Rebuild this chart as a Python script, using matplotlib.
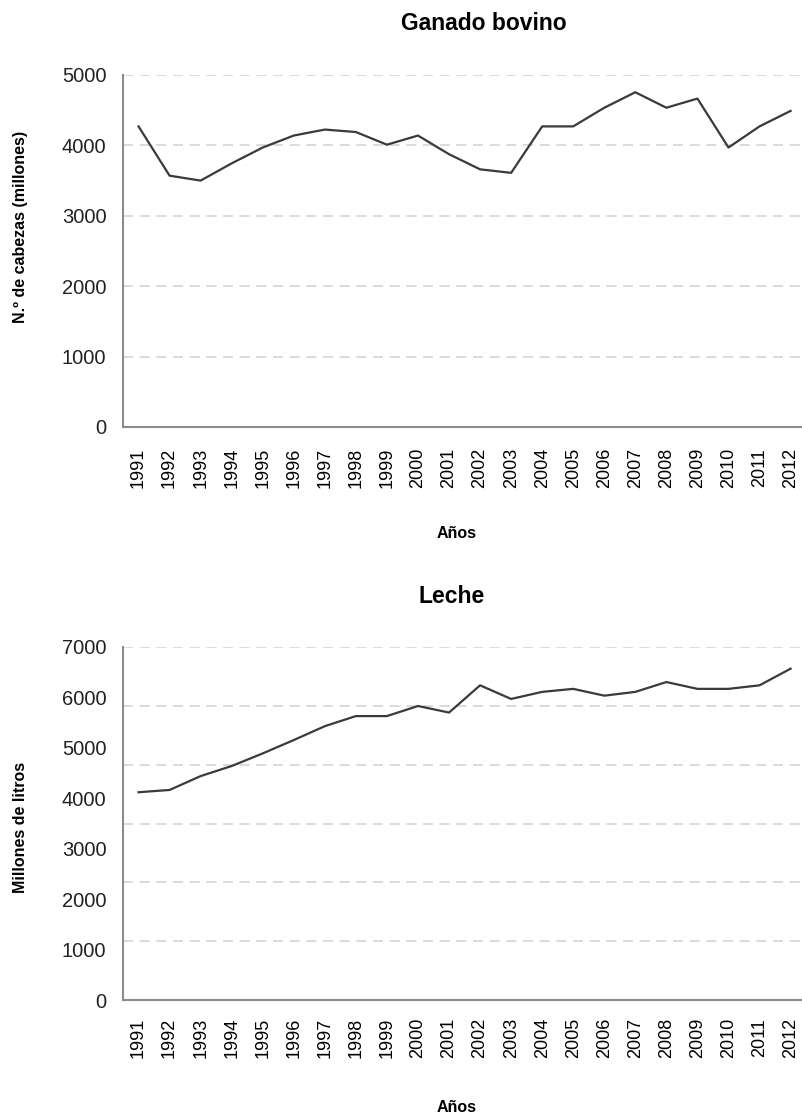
import numpy as np
import matplotlib
matplotlib.use("Agg")
import matplotlib.pyplot as plt

plt.rcParams["font.family"] = ["Liberation Sans", "DejaVu Sans"]

# Data
years = list(range(1991, 2013))
ganado = [4270, 3570, 3500, 3745, 3970, 4140, 4225, 4190, 4010, 4140,
          3875, 3660, 3610, 4270, 4270, 4535, 4755, 4535, 4665, 3970,
          4270, 4490]
leche = [4120, 4165, 4440, 4640, 4890, 5155, 5430, 5630, 5630, 5830,
         5700, 6240, 5970, 6110, 6170, 6035, 6110, 6305, 6170, 6170,
         6240, 6570]

LINE = "#3a3a3a"
GRID = "#d4d4d4"
SPINE = "#8c8c8c"

W, H = 803, 1115
fig = plt.figure(figsize=(W / 100, H / 100), dpi=100)


def make_axes(top_px, bottom_px):
    return fig.add_axes([123 / W, 1 - bottom_px / H, (W - 123) / W, (bottom_px - top_px) / H])


def style(ax, values, ymax, grid_lines, xpad):
    x = np.arange(len(years))
    ax.plot(x, values, color=LINE, lw=1.6)
    ax.set_xlim(-0.5, len(years) - 0.6)
    ax.set_ylim(0, ymax)
    ax.set_xticks(x)
    ax.set_xticklabels([str(y) for y in years], rotation=90, fontsize=13)
    ax.set_yticks(np.arange(0, ymax + 1, 1000))
    ax.tick_params(axis="x", length=0, pad=xpad)
    ax.tick_params(axis="y", length=0, pad=12, labelsize=14.5, labelcolor="#222222")
    for gl in grid_lines[1:]:
        ax.axhline(gl, color=GRID, lw=1.2, ls=(0, (6, 4)), zorder=0)
    for s in ["top", "right"]:
        ax.spines[s].set_visible(False)
    for s in ["left", "bottom"]:
        ax.spines[s].set_color(SPINE)
        ax.spines[s].set_linewidth(1.5)


ax1 = make_axes(75, 427)
style(ax1, ganado, 5000, np.arange(0, 5001, 1000), 15)

ax2 = make_axes(647, 1000)
style(ax2, leche, 7000, np.linspace(0, 7000, 7), 13)

fig.text(484 / W, 1 - 23 / H, "Ganado bovino", ha="center", va="center",
         fontsize=16.5, fontweight="bold")
fig.text(452 / W, 1 - 597 / H, "Leche", ha="center", va="center",
         fontsize=16.5, fontweight="bold")
fig.text(457 / W, 1 - 533 / H, "Años", ha="center", va="center",
         fontsize=11.5, fontweight="bold")
fig.text(457 / W, 1 - 1107 / H, "Años", ha="center", va="center",
         fontsize=11.5, fontweight="bold")
fig.text(21 / W, 1 - 227 / H, "N.º de cabezas (millones)", rotation=90,
         ha="center", va="center", fontsize=11.5, fontweight="bold")
fig.text(21 / W, 1 - 827 / H, "Millones de litros", rotation=90,
         ha="center", va="center", fontsize=11.5, fontweight="bold")

fig.savefig("out.png", dpi=100)
